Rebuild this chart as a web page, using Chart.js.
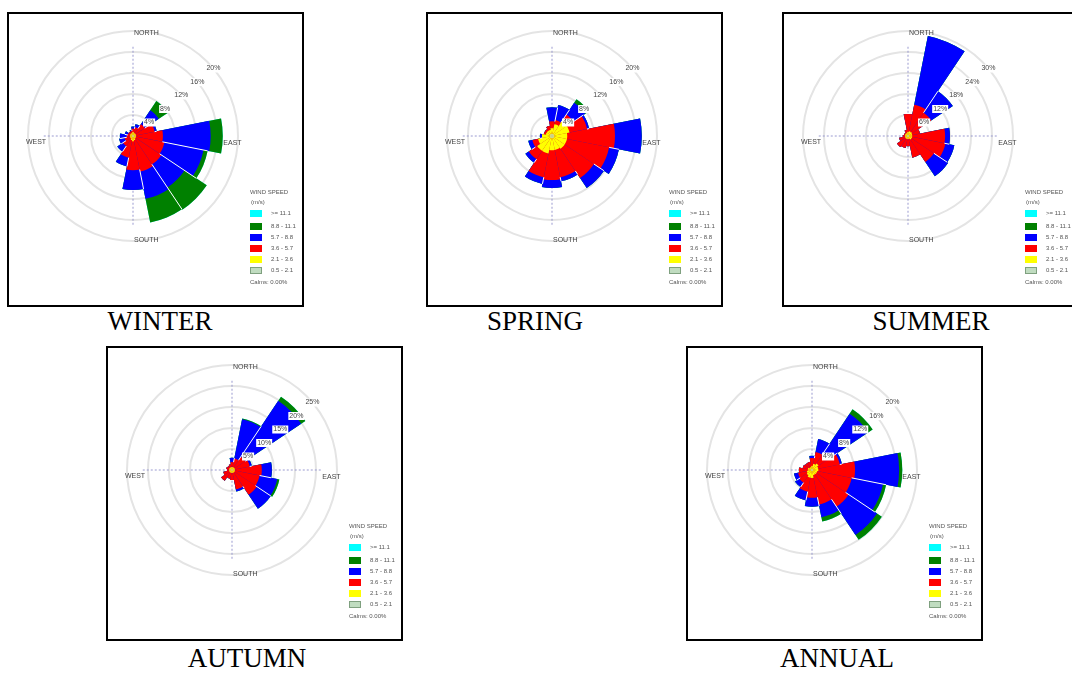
<!DOCTYPE html>
<html>
<head>
<meta charset="utf-8">
<script src="https://cdn.jsdelivr.net/npm/chart.js@4.4.0/dist/chart.umd.min.js"></script>
<style>
  html, body { margin: 0; padding: 0; background: #fff; }
  body { position: relative; width: 1072px; height: 677px; overflow: hidden; }
  .panel { position: absolute; width: 297px; height: 295px; border: 2px solid #000; box-sizing: border-box; background: #fff; }
  .panel canvas { position: absolute; }
  .leg { position: absolute; font-family: Arial, "Liberation Sans", sans-serif; font-size: 6px; line-height: 7px; color: #555; white-space: nowrap; }
  .sw { position: absolute; width: 12px; height: 7px; box-sizing: border-box; }
  .caption { position: absolute; width: 220px; text-align: center; font-family: "Liberation Serif", "Times New Roman", serif; font-size: 27px; line-height: 27px; color: #000; }
</style>
</head>
<body>
<div class="panel" id="p-winter" style="left:7px;top:12px"><canvas id="c-winter"></canvas></div>
<div class="panel" id="p-spring" style="left:426px;top:12px"><canvas id="c-spring"></canvas></div>
<div class="panel" id="p-summer" style="left:782px;top:12px"><canvas id="c-summer"></canvas></div>
<div class="panel" id="p-autumn" style="left:106px;top:346px"><canvas id="c-autumn"></canvas></div>
<div class="panel" id="p-annual" style="left:686px;top:346px"><canvas id="c-annual"></canvas></div>

<div class="caption" style="left:50px;top:308px">WINTER</div>
<div class="caption" style="left:425px;top:308px">SPRING</div>
<div class="caption" style="left:821px;top:308px">SUMMER</div>
<div class="caption" style="left:137px;top:645px">AUTUMN</div>
<div class="caption" style="left:727px;top:645px">ANNUAL</div>

<script>
const directions = ["N", "NNE", "NE", "ENE", "E", "ESE", "SE", "SSE", "S", "SSW", "SW", "WSW", "W", "WNW", "NW", "NNW"]

// speed classes, lowest first (m/s)
const speedClasses = ["0.5 - 2.1", "2.1 - 3.6", "3.6 - 5.7", "5.7 - 8.8", "8.8 - 11.1", ">= 11.1"]
const classColors = ["#c0dcc0", "#ffff00", "#ff0000", "#0000ff", "#008000", "#00ffff"]

// frequency (%) per direction, one row per speed class
const winter = [
    [0.2, 0.2, 0.2, 0.2, 0.2, 0.2, 0.2, 0.2, 0.2, 0.2, 0.2, 0.2, 0.2, 0.2, 0.2, 0.2],
    [0.6, 0.4, 0.4, 0.4, 0.4, 0.4, 0.4, 0.6, 0.8, 0.6, 0.4, 0.4, 0.4, 0.4, 0.4, 0.4],
    [0.6, 1.1, 2.1, 3.6, 5.1, 5.5, 5.9, 6.1, 5.5, 3.4, 1.7, 1.0, 0.6, 0.4, 0.4, 0.4],
    [0.4, 0.6, 3.2, 0.4, 9.1, 7.6, 5.3, 5.3, 3.8, 1.7, 1.3, 1.1, 1.3, 0.6, 0.0, 0.2],
    [0.0, 0.0, 2.1, 0.0, 2.3, 0.8, 5.1, 4.6, 0.0, 0.0, 0.0, 0.0, 0.0, 0.0, 0.0, 0.0],
    [0, 0, 0, 0, 0, 0, 0, 0, 0, 0, 0, 0, 0, 0, 0, 0],
]
const spring = [
    [0.4, 0.4, 0.4, 0.4, 0.4, 0.4, 0.4, 0.4, 0.4, 0.4, 0.4, 0.4, 0.4, 0.4, 0.4, 0.4],
    [1.1, 1.9, 3.4, 3.0, 2.5, 2.5, 2.5, 2.3, 2.3, 3.0, 3.0, 2.3, 1.5, 0.8, 0.8, 0.8],
    [1.3, 0.8, 1.1, 3.4, 9.1, 8.2, 6.7, 5.3, 5.7, 4.6, 1.9, 1.1, 0.0, 0.4, 0.4, 0.8],
    [2.7, 2.9, 2.7, 0.4, 5.1, 1.9, 2.3, 0.8, 1.5, 1.3, 0.8, 0.8, 0.4, 0.0, 0.0, 0.0],
    [0.0, 0.0, 0.8, 0.0, 0.0, 0.0, 0.0, 0.0, 0.0, 0.0, 0.0, 0.0, 0.0, 0.0, 0.0, 0.0],
    [0, 0, 0, 0, 0, 0, 0, 0, 0, 0, 0, 0, 0, 0, 0, 0],
]
const summer = [
    [0.3, 0.3, 0.3, 0.3, 0.3, 0.3, 0.3, 0.3, 0.3, 0.3, 0.3, 0.3, 0.3, 0.3, 0.3, 0.3],
    [0.9, 1.1, 1.1, 0.9, 0.9, 0.9, 0.9, 0.6, 0.6, 0.6, 0.6, 0.6, 0.6, 0.6, 0.6, 0.6],
    [5.1, 7.7, 6.6, 2.3, 9.4, 9.7, 7.7, 5.4, 2.0, 2.6, 2.9, 1.7, 0.6, 0.3, 0.3, 0.9],
    [0.0, 20.0, 7.4, 0.0, 1.4, 2.6, 4.9, 0.0, 0.0, 0.0, 0.0, 0.0, 0.0, 0.0, 0.0, 0.0],
    [0, 0, 0, 0, 0, 0, 0, 0, 0, 0, 0, 0, 0, 0, 0, 0],
    [0, 0, 0, 0, 0, 0, 0, 0, 0, 0, 0, 0, 0, 0, 0, 0],
]
const autumn = [
    [0.2, 0.2, 0.2, 0.2, 0.2, 0.2, 0.2, 0.2, 0.2, 0.2, 0.2, 0.2, 0.2, 0.2, 0.2, 0.2],
    [0.5, 0.5, 0.5, 0.5, 0.5, 0.5, 0.5, 0.5, 0.5, 0.5, 0.5, 0.5, 0.5, 0.5, 0.5, 0.5],
    [1.2, 2.1, 3.1, 3.6, 6.4, 6.0, 6.4, 4.0, 1.7, 1.4, 2.4, 1.4, 0.5, 0.7, 0.5, 0.7],
    [1.0, 9.5, 16.0, 0.5, 2.4, 4.3, 4.0, 0.5, 0.0, 0.0, 0.0, 0.0, 0.0, 0.0, 0.0, 0.0],
    [0.0, 0.2, 1.2, 0.0, 0.0, 0.5, 0.0, 0.0, 0.0, 0.0, 0.0, 0.0, 0.0, 0.0, 0.0, 0.0],
    [0, 0, 0, 0, 0, 0, 0, 0, 0, 0, 0, 0, 0, 0, 0, 0],
]
const annual = [
    [0.2, 0.2, 0.2, 0.2, 0.2, 0.2, 0.2, 0.2, 0.2, 0.2, 0.2, 0.2, 0.2, 0.2, 0.2, 0.2],
    [0.6, 1.0, 1.3, 1.0, 1.0, 0.8, 0.8, 0.8, 1.3, 1.3, 1.0, 0.8, 0.6, 0.6, 0.4, 0.4],
    [1.5, 2.3, 2.3, 4.2, 7.0, 6.7, 7.4, 5.7, 3.8, 2.7, 1.7, 1.7, 1.7, 1.0, 1.0, 1.0],
    [0.4, 2.5, 9.1, 0.4, 8.4, 6.1, 6.5, 2.5, 1.7, 1.7, 1.0, 0.8, 0.0, 0.0, 0.0, 0.0],
    [0.0, 0.0, 1.0, 0.0, 0.6, 0.6, 1.1, 0.8, 0.0, 0.0, 0.0, 0.0, 0.0, 0.0, 0.0, 0.0],
    [0, 0, 0, 0, 0, 0, 0, 0, 0, 0, 0, 0, 0, 0, 0, 0],
]

// outer ring value and ring step (%) per panel
const ringMax = { winter: 20, spring: 20, summer: 30, autumn: 25, annual: 20 }
const ringStep = { winter: 4, spring: 4, summer: 6, autumn: 5, annual: 4 }
const calms = "Calms: 0.00%"

const cumulative = (classes) => {
    const result = []
    let running = directions.map(() => 0)
    for (let k = 0; k < classes.length; k++) {
        running = running.map((v, i) => v + classes[k][i])
        result.push(running)
    }
    return result
}

const roseDecor = {
    id: "roseDecor",
    beforeDatasetsDraw(chart) {
        const r = chart.scales.r
        const ctx = chart.ctx
        const len = r.drawingArea * 0.85
        ctx.save()
        ctx.strokeStyle = "#9a9ad0"
        ctx.lineWidth = 1
        ctx.setLineDash([2, 2])
        ctx.beginPath()
        ctx.moveTo(r.xCenter, r.yCenter - len)
        ctx.lineTo(r.xCenter, r.yCenter + len)
        ctx.moveTo(r.xCenter - len, r.yCenter)
        ctx.lineTo(r.xCenter + len, r.yCenter)
        ctx.stroke()
        ctx.restore()
    },
    afterDatasetsDraw(chart) {
        const r = chart.scales.r
        const ctx = chart.ctx
        const sets = chart.data.datasets
        const totals = sets[sets.length - 1].data
        const reds = sets[2].data
        const n = totals.length

        // thin white gaps between neighbouring wedges, outside the red core
        ctx.save()
        ctx.strokeStyle = "#ffffff"
        ctx.lineWidth = 1
        for (let i = 0; i < n; i++) {
            const j = (i + 1) % n
            const from = Math.min(r.getDistanceFromCenterForValue(reds[i]), r.getDistanceFromCenterForValue(reds[j]))
            const to = Math.min(r.getDistanceFromCenterForValue(totals[i]), r.getDistanceFromCenterForValue(totals[j]))
            if (to <= from) continue
            const a = r.getIndexAngle(j) - Math.PI / 2
            ctx.beginPath()
            ctx.moveTo(r.xCenter + Math.cos(a) * from, r.yCenter + Math.sin(a) * from)
            ctx.lineTo(r.xCenter + Math.cos(a) * to, r.yCenter + Math.sin(a) * to)
            ctx.stroke()
        }
        ctx.restore()

        // ring labels along the north-east diagonal
        ctx.save()
        ctx.font = "7px Arial"
        ctx.textAlign = "center"
        ctx.textBaseline = "middle"
        const ang = (50 * Math.PI) / 180
        for (let tick of r.ticks) {
            if (tick.value <= 0) continue
            const d = r.getDistanceFromCenterForValue(tick.value)
            const x = r.xCenter + Math.sin(ang) * d
            const y = r.yCenter - Math.cos(ang) * d
            const text = tick.value + "%"
            const w = ctx.measureText(text).width
            ctx.fillStyle = "#ffffff"
            ctx.fillRect(x - w / 2 - 1, y - 4, w + 2, 8)
            ctx.fillStyle = "#444"
            ctx.fillText(text, x, y)
        }

        // compass labels
        const d = r.drawingArea
        ctx.textAlign = "left"
        ctx.fillStyle = "#444"
        ctx.fillText("NORTH", r.xCenter + 1, r.yCenter - d * 0.985)
        ctx.fillText("SOUTH", r.xCenter + 1, r.yCenter + d * 0.99)
        ctx.fillText("WEST", r.xCenter - d * 1.02, r.yCenter + 6)
        ctx.fillText("EAST", r.xCenter + d * 0.86, r.yCenter + 7)
        ctx.restore()
    },
}

const addLegend = (panel) => {
    const tops = [196, 209, 220, 231, 242, 253]
    const add = (html, left, top, cls) => {
        const el = document.createElement("div")
        el.className = cls
        el.style.left = left + "px"
        el.style.top = top + "px"
        el.innerHTML = html
        panel.appendChild(el)
        return el
    }
    add("WIND SPEED", 241, 175, "leg")
    add("(m/s)", 242, 185, "leg")
    for (let k = 0; k < speedClasses.length; k++) {
        const idx = speedClasses.length - 1 - k
        const sw = add("", 241, tops[k], "sw")
        sw.style.background = classColors[idx]
        if (idx === 0) sw.style.border = "1px solid #7fa07f"
        add(speedClasses[idx], 262, tops[k], "leg")
    }
    add(calms, 241, 265, "leg")
}

const makeRose = (name, classes) => {
    const canvas = document.getElementById("c-" + name)
    const panel = document.getElementById("p-" + name)
    canvas.width = 250
    canvas.height = 250
    canvas.style.width = "250px"
    canvas.style.height = "250px"

    const stacked = cumulative(classes)
    const config = {
        type: "polarArea",
        data: {
            labels: directions,
            datasets: stacked.map((data, k) => ({
                label: speedClasses[k],
                data: data,
                backgroundColor: classColors[k],
                borderWidth: 0,
            })),
        },
        options: {
            responsive: false,
            animation: false,
            layout: { padding: 20 },
            plugins: {
                legend: { display: false },
                tooltip: { enabled: false },
            },
            scales: {
                r: {
                    min: 0,
                    max: ringMax[name],
                    startAngle: -11.25,
                    ticks: { display: false, stepSize: ringStep[name] },
                    grid: { color: "#e4e4e4", lineWidth: 2, circular: true },
                    angleLines: { display: false },
                    pointLabels: { display: false },
                },
            },
        },
        plugins: [roseDecor],
    }

    const chart = new Chart(canvas, config)
    const r = chart.scales.r
    // put the rose centre at the same spot inside every box
    canvas.style.left = Math.round(123.7 - r.xCenter) + "px"
    canvas.style.top = Math.round(122 - r.yCenter) + "px"
    addLegend(panel)
}

makeRose("winter", winter)
makeRose("spring", spring)
makeRose("summer", summer)
makeRose("autumn", autumn)
makeRose("annual", annual)
</script>
</body>
</html>
